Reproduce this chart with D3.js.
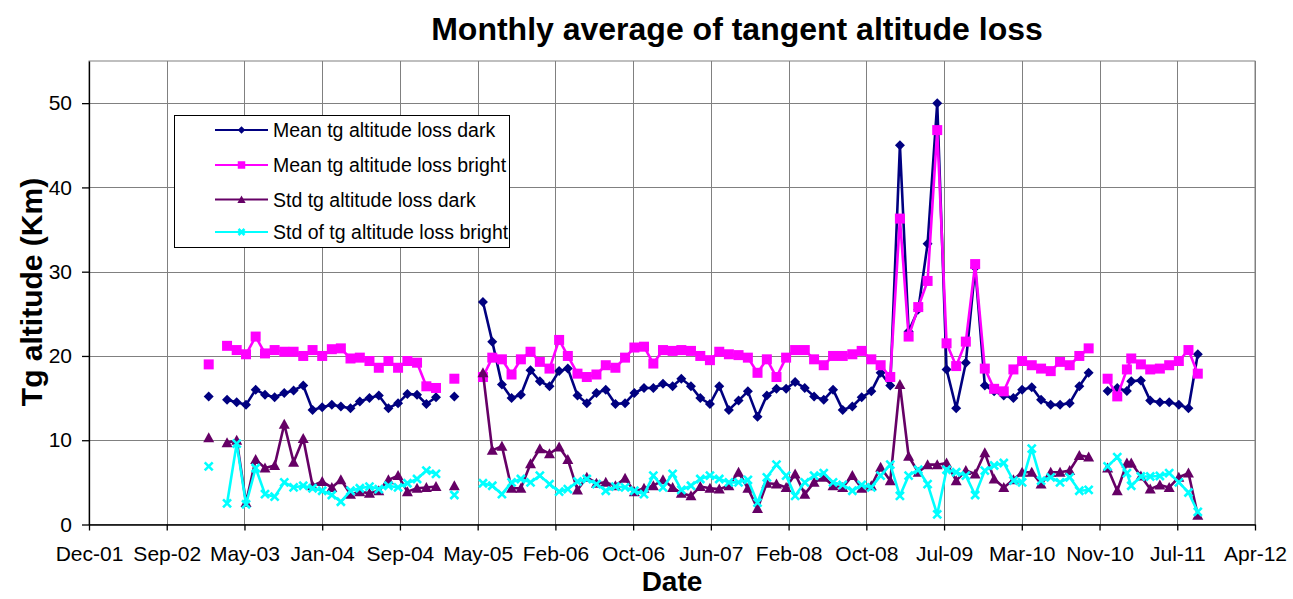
<!DOCTYPE html>
<html><head><meta charset="utf-8">
<script src="https://cdn.jsdelivr.net/npm/d3@7"></script>
<style>body{margin:0;background:#fff;} text{font-family:Arial,"Liberation Sans",sans-serif;fill:#000;}</style>
</head><body><svg id="c" width="1293" height="599"></svg>
<script>
const dates = [
"2003-01-15","2003-02-15","2003-03-15","2003-04-15","2003-05-15","2003-06-15","2003-07-15","2003-08-15","2003-09-15","2003-10-15","2003-11-15","2003-12-15",
"2004-01-15","2004-02-15","2004-03-15","2004-04-15","2004-05-15","2004-06-15","2004-07-15","2004-08-15","2004-09-15","2004-10-15","2004-11-15","2004-12-15",
"2005-01-15","2005-02-15","2005-03-15","2005-04-15","2005-05-15","2005-06-15","2005-07-15","2005-08-15","2005-09-15","2005-10-15","2005-11-15","2005-12-15",
"2006-01-15","2006-02-15","2006-03-15","2006-04-15","2006-05-15","2006-06-15","2006-07-15","2006-08-15","2006-09-15","2006-10-15","2006-11-15","2006-12-15",
"2007-01-15","2007-02-15","2007-03-15","2007-04-15","2007-05-15","2007-06-15","2007-07-15","2007-08-15","2007-09-15","2007-10-15","2007-11-15","2007-12-15",
"2008-01-15","2008-02-15","2008-03-15","2008-04-15","2008-05-15","2008-06-15","2008-07-15","2008-08-15","2008-09-15","2008-10-15","2008-11-15","2008-12-15",
"2009-01-15","2009-02-15","2009-03-15","2009-04-15","2009-05-15","2009-06-15","2009-07-15","2009-08-15","2009-09-15","2009-10-15","2009-11-15","2009-12-15",
"2010-01-15","2010-02-15","2010-03-15","2010-04-15","2010-05-15","2010-06-15","2010-07-15","2010-08-15","2010-09-15","2010-10-15","2010-11-15","2010-12-15",
"2011-01-15","2011-02-15","2011-03-01","2011-04-01","2011-05-01","2011-06-01","2011-07-01","2011-08-01","2011-09-01","2011-10-01"
];
const meanDark = [
15.2,null,14.8,14.5,14.2,16.0,15.4,15.1,15.6,15.9,16.5,13.6,
13.9,14.2,14.0,13.8,14.6,15.0,15.3,13.8,14.4,15.5,15.4,14.3,
15.1,null,15.2,null,null,26.4,21.7,16.6,15.0,15.4,18.3,17.0,
16.4,18.2,18.5,15.3,14.4,15.6,16.0,14.3,14.4,15.6,16.2,16.2,
16.7,16.4,17.3,16.4,15.0,14.3,16.4,13.6,14.7,15.8,12.8,15.3,
16.1,16.1,16.9,16.2,15.2,14.8,16.0,13.6,14.0,15.1,15.8,18.0,
16.5,45.0,22.9,25.5,33.3,50.0,18.4,13.8,19.2,30.5,16.5,15.8,
15.3,15.0,16.0,16.3,14.8,14.2,14.2,14.4,16.4,18.0,null,15.85,
16.2,15.85,17.0,17.1,14.7,14.5,14.5,14.2,13.8,20.2
];
const meanBright = [
19.0,null,21.2,20.7,20.2,22.3,20.3,20.7,20.5,20.5,20.0,20.7,
20.0,20.8,20.9,19.7,19.8,19.4,18.6,19.4,18.6,19.4,19.2,16.4,
16.2,null,17.3,null,null,17.5,19.8,19.6,17.8,19.6,20.5,19.3,
18.5,21.9,20.0,17.9,17.5,17.8,18.9,18.6,19.8,21.0,21.1,19.1,
20.7,20.6,20.7,20.6,20.0,19.5,20.5,20.2,20.1,19.8,18.0,19.6,
17.5,19.8,20.7,20.7,19.6,18.9,20.0,20.0,20.2,20.6,19.6,18.9,
17.5,36.3,22.3,25.8,28.9,46.8,21.5,18.8,21.7,30.9,18.5,16.1,
15.8,18.4,19.4,18.9,18.5,18.2,19.3,18.9,20.0,20.9,null,17.3,
15.2,18.4,19.7,19.0,18.4,18.5,18.9,19.4,20.7,17.9
];
const stdDark = [
10.3,null,9.7,10.0,2.6,7.7,6.7,7.0,11.9,7.4,10.2,4.6,
5.1,4.4,5.3,3.6,3.9,3.7,4.0,5.3,5.8,3.9,4.3,4.4,
4.5,null,4.6,null,null,18.0,8.8,9.3,4.3,4.3,7.2,9.0,
8.4,9.2,7.7,4.1,5.6,4.9,5.0,4.6,5.5,3.9,4.3,4.6,
5.3,4.4,3.7,3.4,4.5,4.3,4.2,4.6,6.2,4.3,1.9,4.9,
4.8,4.4,6.0,3.6,5.0,5.6,4.6,4.4,5.8,4.3,4.6,6.8,
5.2,16.6,8.1,6.2,7.1,7.1,7.3,5.2,6.4,6.0,8.5,5.4,
4.4,5.3,6.2,6.2,4.8,6.2,6.2,6.4,8.2,8.0,null,6.7,
4.0,7.3,7.3,5.75,4.2,4.7,4.4,5.6,6.1,1.1
];
const stdBright = [
6.9,null,2.5,9.6,2.4,6.7,3.6,3.3,5.0,4.4,4.6,4.3,
4.0,3.5,2.7,4.0,4.3,4.5,4.2,4.6,4.4,4.9,5.4,6.4,
6.0,null,3.5,null,null,4.9,4.6,3.6,5.0,5.4,5.0,5.8,
4.8,3.9,4.2,5.1,5.4,4.8,4.0,4.5,4.4,4.0,3.6,5.8,
4.4,6.0,4.1,4.6,5.4,5.8,5.4,5.0,5.0,5.3,2.6,5.6,
7.1,5.8,3.4,5.0,5.8,6.1,5.0,4.7,4.0,4.7,4.4,5.8,
7.1,3.4,5.8,6.5,4.8,1.2,6.5,6.2,5.8,3.5,6.4,7.0,
7.3,5.2,5.0,9.0,5.2,5.6,5.0,5.6,4.0,4.1,null,6.9,
8.0,6.1,4.6,5.7,5.7,5.75,6.1,5.0,3.8,1.5
];
const seriesNames = ["Mean tg altitude loss dark","Mean tg altitude loss bright","Std tg altitude loss dark","Std of tg altitude loss bright"];
const xTickLabels = ["Dec-01","Sep-02","May-03","Jan-04","Sep-04","May-05","Feb-06","Oct-06","Jun-07","Feb-08","Oct-08","Jul-09","Mar-10","Nov-10","Jul-11","Apr-12"];
const yTicks = [0,10,20,30,40,50];

const svg = d3.select("#c");
const L=89, R=1255, T=61, B=524.5;
const DAY = 86400000;
const axisStart = Date.UTC(2001,11,26);
const tickStepDays = 250;
const x = d3.scaleUtc()
  .domain([new Date(axisStart), new Date(axisStart + tickStepDays*(xTickLabels.length-1)*DAY)])
  .range([L,R]);
const y = d3.scaleLinear().domain([0,55]).range([B,T]);
const tickDates = xTickLabels.map((_,i)=>new Date(axisStart + i*tickStepDays*DAY));
const parse = d3.utcParse("%Y-%m-%d");
const pdates = dates.map(parse);
const FONT = "Arial, 'Liberation Sans', sans-serif";

// plot area border
svg.append("rect").attr("x",L).attr("y",T).attr("width",R-L).attr("height",B-T)
  .attr("fill","#fff").attr("stroke","#808080").attr("stroke-width",1);
// gridlines
const grid = svg.append("g").attr("stroke","#808080").attr("stroke-width",1);
yTicks.filter(v=>v>0).forEach(v=>grid.append("line").attr("x1",L).attr("x2",R).attr("y1",Math.round(y(v))+0.5).attr("y2",Math.round(y(v))+0.5));
tickDates.slice(1).forEach(d=>grid.append("line").attr("x1",Math.round(x(d))+0.5).attr("x2",Math.round(x(d))+0.5).attr("y1",T).attr("y2",B));

// axes
const yAxis = svg.append("g").attr("transform",`translate(${L},0)`)
  .call(d3.axisLeft(y).tickValues(yTicks).tickSize(7).tickPadding(10).tickSizeOuter(0));
yAxis.selectAll("text").attr("font-size","21px").style("font-family",FONT);
const xAxis = svg.append("g").attr("transform",`translate(0,${B})`)
  .call(d3.axisBottom(x).tickValues(tickDates).tickFormat((d,i)=>xTickLabels[i]).tickSize(6).tickSizeOuter(0));
xAxis.selectAll("text").attr("font-size","21px").attr("y",36).attr("dy",null).style("font-family",FONT);
svg.selectAll(".domain, .tick line").attr("stroke","#000").attr("stroke-width",1.3);

// series
const series = [
  {vals:meanDark, color:"#000080", marker:"diamond"},
  {vals:meanBright, color:"#FF00FF", marker:"square"},
  {vals:stdDark, color:"#660066", marker:"triangle"},
  {vals:stdBright, color:"#00FFFF", marker:"x"}
];
function drawMarker(g, type, color, cx, cy, s){
  if(type==="diamond") g.append("path").attr("d",`M${cx},${cy-5*s}L${cx+5*s},${cy}L${cx},${cy+5*s}L${cx-5*s},${cy}Z`).attr("fill",color);
  else if(type==="square") g.append("rect").attr("x",cx-5*s).attr("y",cy-5*s).attr("width",10*s).attr("height",10*s).attr("fill",color);
  else if(type==="triangle") g.append("path").attr("d",`M${cx},${cy-5.5*s}L${cx+5.5*s},${cy+4.5*s}L${cx-5.5*s},${cy+4.5*s}Z`).attr("fill",color);
  else g.append("path").attr("d",`M${cx-4*s},${cy-4*s}L${cx+4*s},${cy+4*s}M${cx-4*s},${cy+4*s}L${cx+4*s},${cy-4*s}`).attr("stroke",color).attr("stroke-width",2.6).attr("fill","none");
}
series.forEach(s=>{
  const pts = pdates.map((d,i)=>({d, v:s.vals[i]}));
  const line = d3.line().defined(p=>p.v!=null).x(p=>x(p.d)).y(p=>y(p.v));
  const g = svg.append("g");
  g.append("path").datum(pts).attr("d",line).attr("fill","none").attr("stroke",s.color).attr("stroke-width",2.6).attr("stroke-linejoin","round");
  pts.filter(p=>p.v!=null).forEach(p=>drawMarker(g, s.marker, s.color, x(p.d), y(p.v), 1));
});

// legend
const lg = svg.append("g");
lg.append("rect").attr("x",174.5).attr("y",115.5).attr("width",335).attr("height",132).attr("fill","#fff").attr("stroke","#000").attr("stroke-width",1);
const rowsY = [130,165,199.5,232];
series.forEach((s,i)=>{
  const ry = rowsY[i];
  lg.append("line").attr("x1",215).attr("x2",268).attr("y1",ry).attr("y2",ry).attr("stroke",s.color).attr("stroke-width",2.2);
  drawMarker(lg, s.marker, s.color, 241.5, ry, 0.75);
  lg.append("text").attr("x",273).attr("y",ry).attr("dy","0.36em").attr("font-size","19.5px").text(seriesNames[i]);
});

// titles
svg.append("text").attr("x",737).attr("y",40).attr("text-anchor","middle").attr("font-size","32px").attr("font-weight","bold").text("Monthly average of tangent altitude loss");
svg.append("text").attr("x",672).attr("y",591).attr("text-anchor","middle").attr("font-size","28px").attr("font-weight","bold").text("Date");
svg.append("text").attr("transform","translate(42,292) rotate(-90)").attr("text-anchor","middle").attr("font-size","30px").attr("font-weight","bold").text("Tg altitude (Km)");
</script></body></html>
